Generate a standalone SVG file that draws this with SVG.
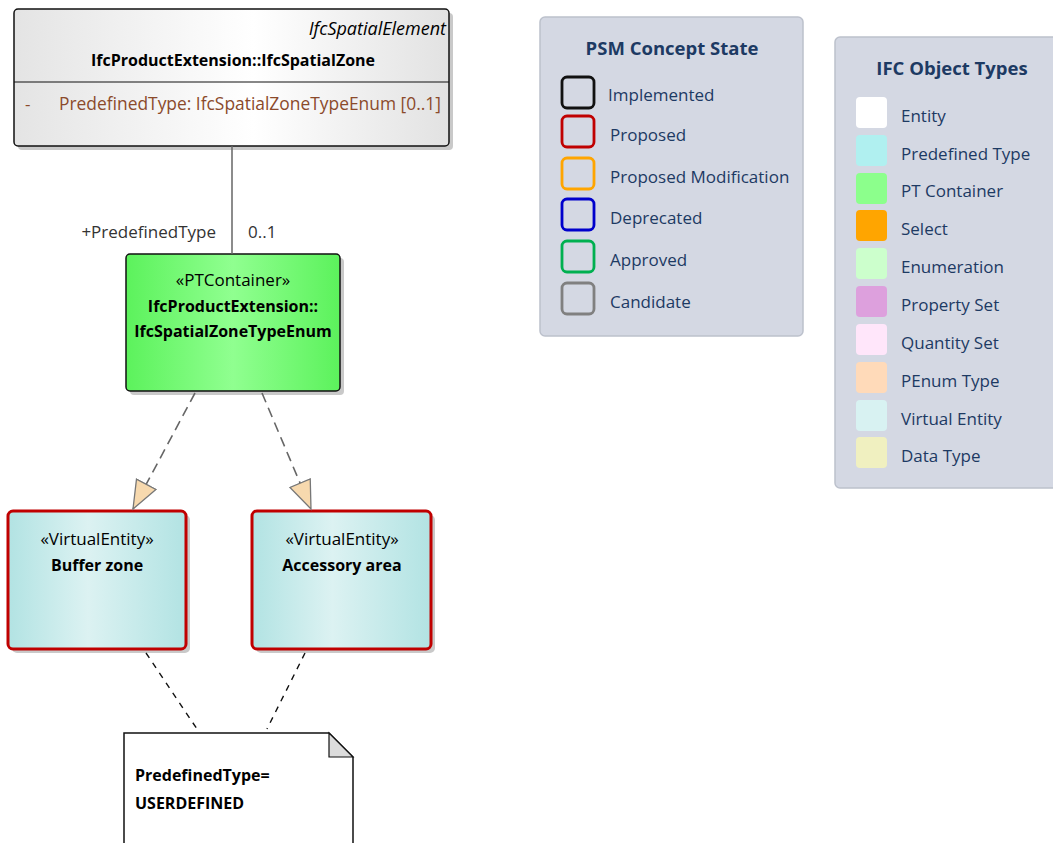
<svg xmlns="http://www.w3.org/2000/svg" width="1053" height="843" viewBox="0 0 1053 843">
<defs>
<linearGradient id="gGray" x1="0" y1="0" x2="1" y2="0"><stop offset="0" stop-color="#e4e4e4"/><stop offset="0.55" stop-color="#ffffff"/><stop offset="1" stop-color="#e2e2e2"/></linearGradient>
<linearGradient id="gGreen" x1="0" y1="0" x2="1" y2="0"><stop offset="0" stop-color="#5cf25c"/><stop offset="0.5" stop-color="#90ff90"/><stop offset="1" stop-color="#5cf25c"/></linearGradient>
<linearGradient id="gCyan" x1="0" y1="0" x2="1" y2="0"><stop offset="0" stop-color="#b2e3e3"/><stop offset="0.45" stop-color="#dcf2f2"/><stop offset="1" stop-color="#b2e3e3"/></linearGradient>
<marker id="tri" markerWidth="32" markerHeight="26" refX="29" refY="12" orient="auto" markerUnits="userSpaceOnUse"><path d="M1,1 L29,12 L1,23 Z" fill="#f7d9ae" stroke="#777" stroke-width="1.3"/></marker>
</defs>
<style>
text{font-family:"Open Sans","Liberation Sans",sans-serif;}
.t{font-size:17px;fill:#000;}
.b{font-size:16px;font-weight:bold;fill:#000;}
.shadow{fill:#c9c9c9;}
.lt{font-size:17px;fill:#1d3a63;}
.lh{font-size:18.5px;font-weight:bold;fill:#1d3a63;}
.leg{fill:#d4d8e3;stroke:#bcc1cc;stroke-width:1.5;}
.sq{fill:none;stroke-width:2.8;}
.cs{stroke:none;}
.ve{stroke:#c00000;stroke-width:3;fill:url(#gCyan);}
</style>

<g id="spatialZone">
<rect class="shadow" x="18" y="13" width="435" height="137" rx="4"/>
<rect x="14" y="9" width="435" height="137" rx="4" fill="url(#gGray)" stroke="#111" stroke-width="1.5"/>
<line x1="14" y1="82" x2="449" y2="82" stroke="#111" stroke-width="1.2"/>
<text class="t" x="446" y="35" text-anchor="end" font-style="italic" style="font-size:18px">IfcSpatialElement</text>
<text class="b" x="233" y="66" text-anchor="middle">IfcProductExtension::IfcSpatialZone</text>
<text class="t" x="25" y="110" style="fill:#8b4a2b">-</text>
<text class="t" x="59" y="110" style="fill:#8b4a2b;font-size:17.4px">PredefinedType: IfcSpatialZoneTypeEnum [0..1]</text>
</g>

<g id="ptContainer">
<rect class="shadow" x="130" y="258" width="214" height="137" rx="4"/>
<rect x="126" y="254" width="214" height="137" rx="4" fill="url(#gGreen)" stroke="#111" stroke-width="1.5"/>
<text class="t" x="233" y="286" text-anchor="middle">«PTContainer»</text>
<text class="b" x="233" y="312" text-anchor="middle">IfcProductExtension::</text>
<text class="b" x="233" y="337" text-anchor="middle">IfcSpatialZoneTypeEnum</text>
</g>

<g id="bufferZone">
<rect class="shadow" x="12" y="515" width="178" height="138" rx="5"/>
<rect class="ve" x="8" y="511" width="178" height="138" rx="5"/>
<text class="t" x="97" y="545" text-anchor="middle">«VirtualEntity»</text>
<text class="b" x="97" y="571" text-anchor="middle">Buffer zone</text>
</g>

<g id="accessoryArea">
<rect class="shadow" x="256" y="515" width="179" height="138" rx="5"/>
<rect class="ve" x="252" y="511" width="179" height="138" rx="5"/>
<text class="t" x="342" y="545" text-anchor="middle">«VirtualEntity»</text>
<text class="b" x="342" y="571" text-anchor="middle">Accessory area</text>
</g>

<g id="note">
<path d="M124,733 L329,733 L353,757 L353,850 L124,850 Z" fill="#fff" stroke="#111" stroke-width="1.5"/>
<path d="M329,733 L329,757 L353,757 Z" fill="#dcdcdc" stroke="#111" stroke-width="1.2"/>
<text class="b" x="135" y="781">PredefinedType=</text>
<text class="b" x="135" y="809">USERDEFINED</text>
</g>

<g id="connectors">
<line x1="232" y1="146" x2="232" y2="254" stroke="#666" stroke-width="1.5"/>
<text class="t" x="216" y="238" text-anchor="end" style="fill:#333">+PredefinedType</text>
<text class="t" x="248" y="238" style="fill:#333">0..1</text>
<line x1="195" y1="393" x2="133" y2="509" stroke="#666" stroke-width="1.6" stroke-dasharray="10,6" marker-end="url(#tri)"/>
<line x1="262" y1="393" x2="311" y2="509" stroke="#666" stroke-width="1.6" stroke-dasharray="10,6" marker-end="url(#tri)"/>
<line x1="146" y1="653" x2="197" y2="729" stroke="#111" stroke-width="1.4" stroke-dasharray="6,6"/>
<line x1="305" y1="653" x2="267" y2="729" stroke="#111" stroke-width="1.4" stroke-dasharray="6,6"/>
</g>

<g id="psmLegend">
<rect class="leg" x="540" y="17" width="263" height="319" rx="5"/>
<text class="lh" x="672" y="55" text-anchor="middle">PSM Concept State</text>
<rect class="sq" x="562" y="77" width="32" height="31" rx="5" stroke="#111"/>
<rect class="sq" x="562" y="116" width="32" height="31" rx="5" stroke="#c00000"/>
<rect class="sq" x="562" y="158" width="32" height="31" rx="5" stroke="#ffa500"/>
<rect class="sq" x="562" y="199" width="32" height="31" rx="5" stroke="#0000cc"/>
<rect class="sq" x="562" y="241" width="32" height="31" rx="5" stroke="#00b050"/>
<rect class="sq" x="562" y="283" width="32" height="31" rx="5" stroke="#808080"/>
<text class="lt" x="608" y="101">Implemented</text>
<text class="lt" x="610" y="141">Proposed</text>
<text class="lt" x="610" y="183">Proposed Modification</text>
<text class="lt" x="610" y="224">Deprecated</text>
<text class="lt" x="610" y="266">Approved</text>
<text class="lt" x="610" y="308">Candidate</text>
</g>

<g id="ifcLegend">
<rect class="leg" x="835" y="37" width="240" height="451" rx="5"/>
<text class="lh" x="952" y="75" text-anchor="middle">IFC Object Types</text>
<rect class="cs" x="856" y="97" width="31" height="31" rx="4" fill="#ffffff"/>
<rect class="cs" x="856" y="135" width="31" height="31" rx="4" fill="#b0f0f0"/>
<rect class="cs" x="856" y="173" width="31" height="31" rx="4" fill="#8cff8c"/>
<rect class="cs" x="856" y="210" width="31" height="31" rx="4" fill="#ffa500"/>
<rect class="cs" x="856" y="248" width="31" height="31" rx="4" fill="#ccffcc"/>
<rect class="cs" x="856" y="286" width="31" height="31" rx="4" fill="#dda0dd"/>
<rect class="cs" x="856" y="324" width="31" height="31" rx="4" fill="#ffe6fa"/>
<rect class="cs" x="856" y="362" width="31" height="31" rx="4" fill="#ffdab9"/>
<rect class="cs" x="856" y="400" width="31" height="31" rx="4" fill="#d8f2f2"/>
<rect class="cs" x="856" y="437" width="31" height="31" rx="4" fill="#f0f0c0"/>
<text class="lt" x="901" y="122">Entity</text>
<text class="lt" x="901" y="160">Predefined Type</text>
<text class="lt" x="901" y="197">PT Container</text>
<text class="lt" x="901" y="235">Select</text>
<text class="lt" x="901" y="273">Enumeration</text>
<text class="lt" x="901" y="311">Property Set</text>
<text class="lt" x="901" y="349">Quantity Set</text>
<text class="lt" x="901" y="387">PEnum Type</text>
<text class="lt" x="901" y="425">Virtual Entity</text>
<text class="lt" x="901" y="462">Data Type</text>
</g>
</svg>
